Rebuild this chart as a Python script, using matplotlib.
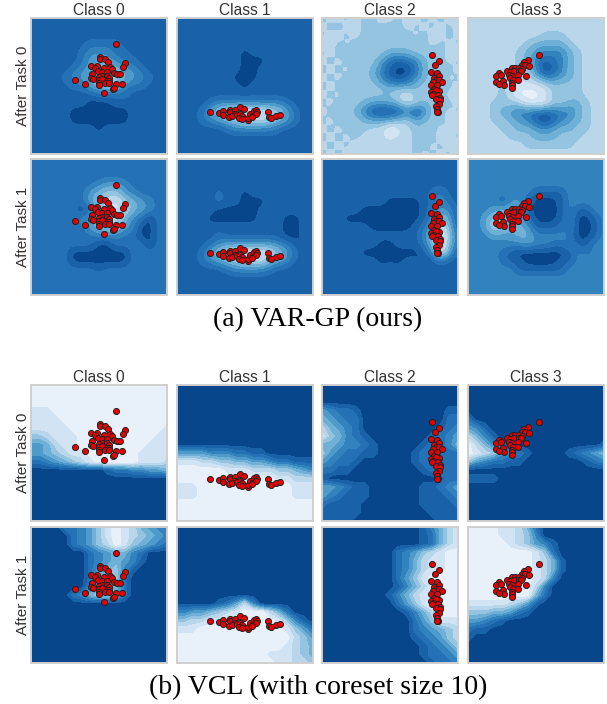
import numpy as np
import matplotlib
matplotlib.use('Agg')
import matplotlib.pyplot as plt

W, H = 607, 704

# band colours, dark to pale
BANDS = ['#08468b', '#1a62a8', '#2471b6', '#3282be', '#4e9acb',
         '#6fb0d7', '#94c4df', '#b9d6ea', '#d2e3f3', '#e8f1fa']

CLASSES = ['Class 0', 'Class 1', 'Class 2', 'Class 3']
ROWS = ['After Task 0', 'After Task 1']

# training points of each class
PTS_0 = [(254,78),(206,115),(206,123),(221,123),(230,132),(279,134),(275,147),(179,144),(197,142),(191,150),
         (236,145),(242,153),(201,159),(218,150),(211,161),(225,162),(247,164),(256,166),(266,166),(181,166),
         (211,172),(225,173),(179,178),(184,183),(203,177),(203,186),(233,179),(217,185),(211,182),(225,188),
         (233,188),(132,186),(161,198),(202,195),(202,199),(221,195),(233,195),(254,198),(270,198),(244,210),
         (247,207),(218,224)]
PTS_1 = [(99,280),(128,282),(139,278),(139,288),(158,273),(160,280),(173,273),(190,266),(200,270),(174,285),
         (155,295),(165,291),(180,290),(190,285),(195,292),(185,297),(195,300),(213,303),(214,297),(220,285),
         (228,290),(232,277),(238,273),(241,279),(236,287),(225,295),(273,281),(274,294),(280,298),(297,291),
         (308,289)]
PTS_2 = [(329,109),(347,128),(337,141),(325,161),(342,165),(347,174),(334,179),(340,185),(349,185),(358,191),
         (331,190),(326,201),(342,199),(334,210),(349,217),(326,220),(340,213),(332,226),(329,230),(344,230),
         (352,237),(338,242),(350,245),(348,257),(338,263),(342,270),(346,279),(343,280)]
PTS_3 = [(210,110),(179,126),(166,131),(162,141),(171,141),(182,144),(131,149),(140,149),(151,149),(160,152),
         (116,159),(124,161),(136,157),(151,159),(158,157),(91,165),(84,174),(98,171),(121,171),(132,173),
         (148,169),(173,174),(126,180),(134,185),(148,186),(104,188),(84,191),(107,201),(92,197),(131,193),
         (131,201),(132,209)]

# one digit = band index, 17 x 17 cells
VAR_T0_C0 = ["11111111111111111","11111111111111111","11111111111111111","11111112222111111",
             "11111123332211111","11111124543221111","11111234565432111","11112345676543211",
             "11111224565322111","11111111222211111","11111110001111111","11111000000011111",
             "11111000000011111","11111111011111111","11111111111111111","11111111111111111","11111111111111111"]
VAR_T1_C0 = ["22222222222222222","22222222222222222","22222222222222222","22222222344322222",
             "22222224566432222","22223224678654322","22222202578754322","22222234677532022",
             "22222224566430022","22322222333220022","22222222002222022","22222000000022222",
             "22222000000022222","22222222122222222","22222222222222222","22222222222222222","22222222222222222"]
VAR_T0_C1 = ["11111111111111111","11111111111111111","11111111111111111","11111111111111111",
             "11111111011111111","11111111000111111","11111111001111111","11111110001111111",
             "11111111011111111","11111111111111111","11112333333332111","11124678888764211",
             "11123456777654211","11111123333321111","11111111111111111","11111111111111111","11111111111111111"]
VAR_T1_C1 = ["11111111111111111","11111111111111111","11111111111111111","11111111111111111",
             "11111211011111111","11111211000111111","11111000001111111","11110000001110011",
             "11111111111110011","11111211111110011","11112344444432101","11124678888764211",
             "11123456777543111","11111123333211111","11111111111111111","11111111111111111","11111111111111111"]
VAR_T0_C2 = ["67767667767767677","76677676667676767","67767666666767767","77676666666667676",
             "67666666555666677","76766664212356676","67676653100256667","76766653101356676",
             "67666665444566667","76766666678666677","67666544457656667","76665310113136676",
             "67666544456456677","76766677987666767","67676777877666776","76767777777667677","67677677767676767"]
VAR_T1_C2 = ["11111111111111111","11111111111111111","11111111111111111","11111111111111111",
             "11111111111112311","11111111000012321","11111000000012431","11100000000013641",
             "11111100000124851","11111111111136962","11111110011125952","11111000000013841",
             "11111110001101211","11111111211111111","11111111111111111","11111111111111111","11111111111111111"]
VAR_T0_C3 = ["77777777777777777","77777777777777777","77777777766677777","77777776555567777",
             "77777765433356777","77777765312356777","77777766301356777","77777777533456777",
             "77776788876666777","77776799986666777","77766668886655677","77765433222335677",
             "77766543101345677","77776655434556677","77777666555666777","77777776666667777","77777777777777777"]
VAR_T1_C3 = ["33333333333333333","33333333333333333","33333333333333333","33333333333333333",
             "33333333111133333","33331341000133333","33345551000131133","33465542000130013",
             "33476554111230013","33344455333320013","33333334332231133","33332100000013233",
             "33332110000113333","33333311111133333","33333333333333333","33333333333333333","33333333333333333"]

VCL_T0_C0 = ["99999999999999999","99999999999999999","99999999999999999","88899999999999999",
             "88889999999999999","88888999999999998","66788899999999988","44578899999999888",
             "44567889999998888","22345678999998887","00000000012233445","00000000000000000",
             "00000000000000000","00000000000000000","00000000000000000","00000000000000000","00000000000000000"]
VCL_T1_C0 = ["00002234689875433","00000234689876543","00000234679865432","00000002345532000",
             "00000002345431000","00000002456310000","00000002566200000","00000003565200000",
             "00000235665200000","00000000000000000","00000000000000000","00000000000000000",
             "00000000000000000","00000000000000000","00000000000000000","00000000000000000","00000000000000000"]
VCL_T0_C1 = ["00000000000000000","00000000000000000","00000000000000000","00000000000000000",
             "00000000000000000","00000000000000000","00000000000000000","00000000000000000",
             "44443332211000000","88877665544322111","99999988877766543","99999999999988777",
             "88899999999999888","88899999999999888","99999999999999999","99999999999999999","99999999999999999"]
VCL_T1_C1 = ["00000000000000000","00000000000000000","00000000000000000","00000000000000000",
             "00000000000000000","00000000000000000","00000000000000000","00000000000000000",
             "00000000000000000","00000124730000000","33445678999752000","66778899999986310",
             "88899999999998642","99999999999999764","99999999999998765","99999999999888765","99999999999988776"]
VCL_T0_C2 = ["00000000000000000","00000000000000000","00000000000000000","43221000000000011",
             "54322000000000022","75432000000000123","86532100000001234","55433210000012235",
             "64322110000122222","43221000000122222","22110000000012222","10000000000000122",
             "44321100000011234","43211100000011123","21111000000011112","11111000000001111","11110000000000111"]
VCL_T1_C2 = ["00000000000013578","00000000000012578","00000000000012578","00000000023467899",
             "00000000023578899","00000000023578899","00000000024689999","00000000013578999",
             "00000000135789999","00000000024689999","00000000001357999","00000000000246888",
             "00000000000234567","00000000000123467","00000000000012346","00000000000012234","00000000000001223"]
VCL_T0_C3 = ["00000000000000000","00000000000000000","00000000000000000","00000000000000000",
             "20000000000000000","43100000000000000","75310000000000000","97531000000000001",
             "98764321000012345","64322110000000123","00000000000000000","11110000000000000",
             "00000000000000000","00000000000000000","00000000000000000","00000000000000000","00000000000000000"]
VCL_T1_C3 = ["99998875200000000","99998876300000000","99999876431000000","99999999862000000",
             "99999999875100000","99999999875100000","99999999873000000","99999999730000000",
             "99999999520000000","88888764100000000","66655421000000000","44321000000000000",
             "21100000000000000","10000000000000000","00000000000000000","00000000000000000","00000000000000000"]

VAR_PANELS = [[VAR_T0_C0, VAR_T0_C1, VAR_T0_C2, VAR_T0_C3],
              [VAR_T1_C0, VAR_T1_C1, VAR_T1_C2, VAR_T1_C3]]
VCL_PANELS = [[VCL_T0_C0, VCL_T0_C1, VCL_T0_C2, VCL_T0_C3],
              [VCL_T1_C0, VCL_T1_C1, VCL_T1_C2, VCL_T1_C3]]
POINTS = [PTS_0, PTS_1, PTS_2, PTS_3]

COL_LEFT = [31, 176.5, 322, 468]
SIZE = 136


def blur_line(v, width):
    pad = width // 2
    return np.convolve(np.pad(v, pad, mode='edge'), np.ones(width) / width, mode='valid')


def soften(z, k=5, width=7):
    # rounder contours for the GP panels: finer grid, then a small box blur
    n = z.shape[0]
    old = np.arange(n)
    new = np.linspace(0, n - 1, (n - 1) * k + 1)
    big = np.apply_along_axis(lambda v: np.interp(new, old, v), 0, z)
    big = np.apply_along_axis(lambda v: np.interp(new, old, v), 1, big)
    for axis in (0, 1):
        big = np.apply_along_axis(blur_line, axis, big, width)
    return big


def panel(left, top, field, pts, smooth):
    ax = fig.add_axes([left / W, 1 - (top + SIZE) / H, SIZE / W, SIZE / H])
    z = np.array([[int(c) for c in row] for row in field], dtype=float)
    if smooth:
        z = soften(z)
    g = np.linspace(0, 405, z.shape[0])
    ax.contourf(g, g, z, levels=np.arange(-0.5, 10), colors=BANDS)
    p = np.array(pts)
    ax.scatter(p[:, 0], p[:, 1], s=19, c='#e60000', edgecolors='#222222', linewidths=0.7, zorder=3)
    ax.set_xlim(0, 405)
    ax.set_ylim(405, 0)
    ax.set_xticks([])
    ax.set_yticks([])
    for s in ax.spines.values():
        s.set_color('#cfcfcf')
        s.set_linewidth(1.4)
    return ax


def block(tops, panels, smooth):
    for r, top in enumerate(tops):
        for c, left in enumerate(COL_LEFT):
            ax = panel(left, top, panels[r][c], POINTS[c], smooth)
            if r == 0:
                ax.set_title(CLASSES[c], fontsize=11.2, color='#333333', pad=1.5, family='Liberation Sans')
            if c == 0:
                ax.set_ylabel(ROWS[r], fontsize=11, color='#333333', labelpad=1, family='Liberation Sans')


fig = plt.figure(figsize=(W / 100, H / 100), dpi=100)
block([18, 159], VAR_PANELS, True)
block([385, 527], VCL_PANELS, False)

fig.text(318 / W, 1 - 320 / H, '(a) VAR-GP (ours)', ha='center', va='center',
         fontsize=20, family='Liberation Serif', color='black')
fig.text(318 / W, 1 - 688 / H, '(b) VCL (with coreset size 10)', ha='center', va='center',
         fontsize=20, family='Liberation Serif', color='black')

fig.savefig('out.png', dpi=100)
